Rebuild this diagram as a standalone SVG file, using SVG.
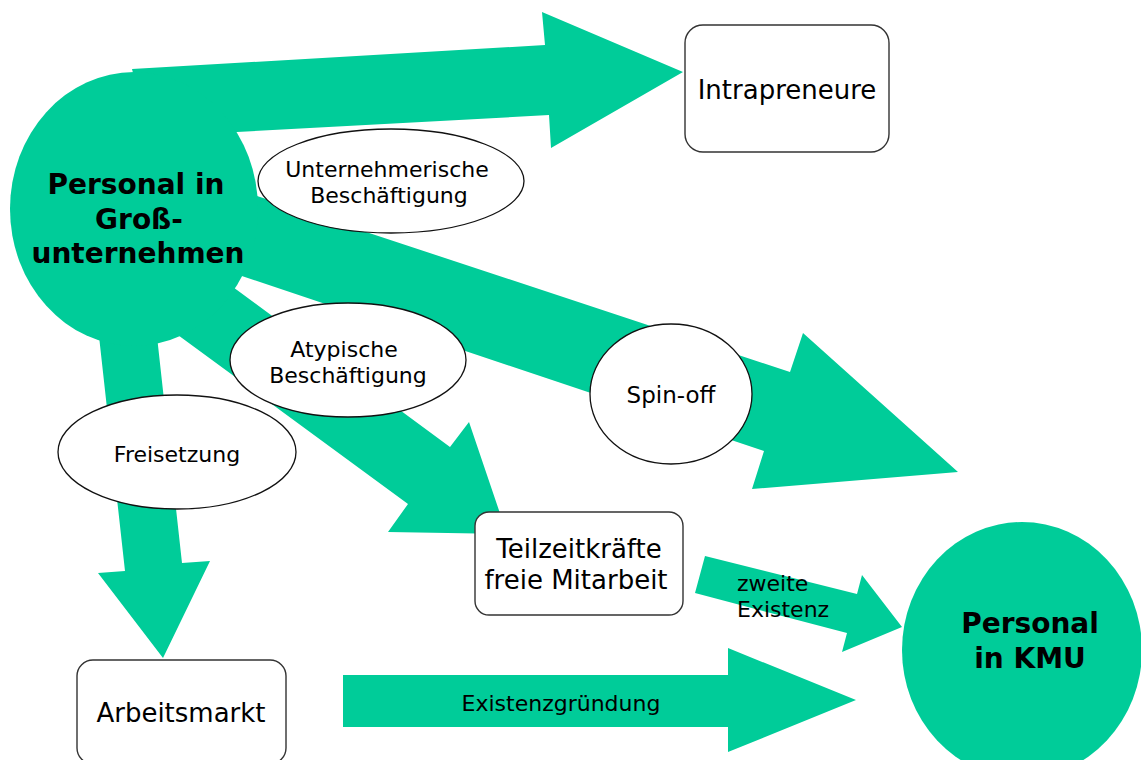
<svg xmlns="http://www.w3.org/2000/svg" width="1141" height="760" viewBox="0 0 1141 760">
  <style>
    .flow { fill: #00cc99; stroke: none; }
    .hub { fill: #00cc99; stroke: none; }
    .box { fill: #ffffff; stroke: #333333; stroke-width: 1.4; }
    .tag { fill: #ffffff; stroke: #111111; stroke-width: 1.3; }
    text { font-family: "DejaVu Sans", Verdana, "Liberation Sans", sans-serif; fill: #000000; }
    .big { font-size: 28px; font-weight: bold; text-anchor: middle; }
    .lbl { font-size: 26px; text-anchor: middle; }
    .sm { font-size: 22px; text-anchor: middle; }
  </style>
  <rect width="1141" height="760" fill="#ffffff"/>

  <!-- block arrows -->
  <g id="connectors">
    <!-- to Intrapreneure -->
    <polygon class="flow" points="132,69 545,45 542,12 683,72 551,148 549,115 237,132 150,140"/>
    <!-- Spin-off into Personal in KMU -->
    <polygon class="flow" points="230,187 790,372 803,333 958,472 752,489 764,451 200,262"/>
    <!-- Atypische Beschäftigung to Teilzeitkräfte -->
    <polygon class="flow" points="177,246 237,290 450,447 469,422 507,534 388,532 408,504 182,338 122,294"/>
    <!-- Freisetzung to Arbeitsmarkt -->
    <polygon class="flow" points="95,300 153,300 182,563 210,561 163,658 98,573 125,571"/>
    <!-- zweite Existenz -->
    <polygon class="flow" points="705,556 857,594 862,575 902,627 842,652 847,633 695,593"/>
    <!-- Existenzgründung -->
    <polygon class="flow" points="343,675 728,675 728,648 856,700 728,752 728,727 343,727"/>
    <text class="sm" x="561" y="711">Existenzgründung</text>
    <text x="737" y="591" font-size="22">zweite</text>
    <text x="737" y="617" font-size="22">Existenz</text>
  </g>

  <g id="gross">
    <ellipse class="hub" cx="134" cy="209" rx="124" ry="137"/>
    <text class="big" x="136" y="194">Personal in</text>
    <text class="big" x="139" y="229">Groß-</text>
    <text class="big" x="138" y="263">unternehmen</text>
  </g>

  <g id="kmu">
    <ellipse class="hub" cx="1022" cy="650" rx="120" ry="128"/>
    <text class="big" x="1030" y="633">Personal</text>
    <text class="big" x="1030" y="668">in KMU</text>
  </g>

  <g id="intrapreneure">
    <rect class="box" x="685" y="25" width="204" height="127" rx="18"/>
    <text class="lbl" x="787" y="99">Intrapreneure</text>
  </g>

  <g id="teilzeit">
    <rect class="box" x="475" y="512" width="208" height="103" rx="14"/>
    <text class="lbl" x="579" y="558">Teilzeitkräfte</text>
    <text class="lbl" x="576" y="589">freie Mitarbeit</text>
  </g>

  <g id="arbeitsmarkt">
    <rect class="box" x="77" y="660" width="209" height="104" rx="16"/>
    <text class="lbl" x="181" y="722">Arbeitsmarkt</text>
  </g>

  <g id="unternehmerisch">
    <ellipse class="tag" cx="391" cy="181" rx="133" ry="52"/>
    <text class="sm" x="387" y="177">Unternehmerische</text>
    <text class="sm" x="389" y="203">Beschäftigung</text>
  </g>

  <g id="atypisch">
    <ellipse class="tag" cx="348" cy="360" rx="118" ry="57"/>
    <text class="sm" x="344" y="357">Atypische</text>
    <text class="sm" x="348" y="383">Beschäftigung</text>
  </g>

  <g id="freisetzung">
    <ellipse class="tag" cx="177" cy="452" rx="119" ry="57"/>
    <text class="sm" x="177" y="462">Freisetzung</text>
  </g>

  <g id="spinoff">
    <ellipse class="tag" cx="671" cy="394" rx="81" ry="70"/>
    <text x="671" y="403" font-size="23" text-anchor="middle">Spin-off</text>
  </g>
</svg>
